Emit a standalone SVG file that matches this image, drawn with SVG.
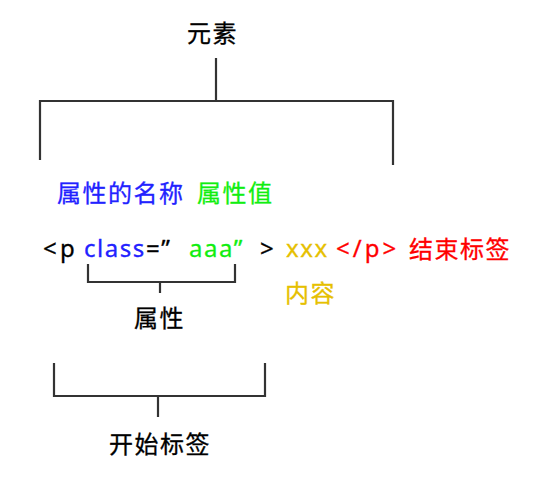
<svg xmlns="http://www.w3.org/2000/svg" width="545" height="483" viewBox="0 0 545 483">
<style>
text{font-family:"Noto Sans","Noto Sans CJK SC",sans-serif;font-size:24px;letter-spacing:1.5px;stroke-width:0.3px}
.k{fill:#000;stroke:#000}.b{fill:#2222ff;stroke:#2222ff}.g{fill:#11ee11;stroke:#11ee11}.y{fill:#e6c000;stroke:#e6c000}.r{fill:#ff0000;stroke:#ff0000}
.ln{fill:none;stroke:#333;stroke-width:2.2;stroke-linejoin:miter}
</style>
<rect width="545" height="483" fill="#fff"/>
<g id="connectors">
<path class="ln" d="M216,58V100"/>
<path class="ln" d="M40,160V101H393V165"/>
<path class="ln" d="M88,264V282H235V264"/>
<path class="ln" d="M160,282V293"/>
<path class="ln" d="M54,363V396H265V363"/>
<path class="ln" d="M158,396V417"/>
</g>
<g id="element"><text class="k" x="187" y="42">元素</text></g>
<g id="attr-name"><text class="b" x="57" y="202">属性的名称</text></g>
<g id="attr-value"><text class="g" x="197" y="202">属性值</text></g>
<g id="code">
<text class="k" x="43" y="257">&lt;</text>
<text class="k" x="60" y="257">p</text>
<text class="b" x="84" y="257">class</text>
<text class="k" x="146" y="257">=”</text>
<text class="g" x="189" y="257">aaa”</text>
<text class="k" x="260" y="257">&gt;</text>
<text class="y" x="286" y="257">xxx</text>
<text class="r" x="336" y="257" style="letter-spacing:3px">&lt;/p&gt;</text>
</g>
<g id="end-tag"><text class="r" x="409" y="258">结束标签</text></g>
<g id="content"><text class="y" x="285" y="302">内容</text></g>
<g id="attr"><text class="k" x="134" y="327">属性</text></g>
<g id="start-tag"><text class="k" x="109" y="453">开始标签</text></g>
</svg>
